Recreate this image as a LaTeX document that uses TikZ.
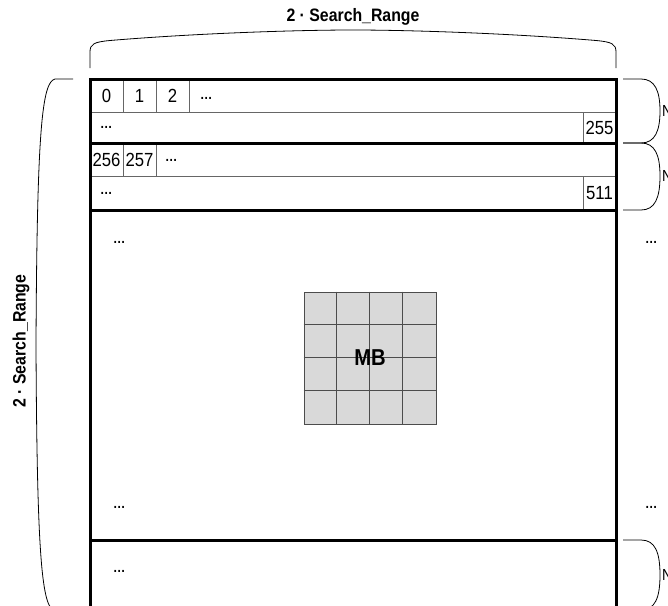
\documentclass[tikz,border=0pt]{standalone}
\usepackage{fontspec}
\setmainfont{Liberation Sans}[FakeStretch=0.88]
\usetikzlibrary{positioning,calc}

\begin{document}
\begin{tikzpicture}[
  x=1pt, y=-1pt,
  font=\fontsize{19}{19}\selectfont,
  cell/.style={draw=black!60, line width=0.7pt, minimum width=33pt, minimum height=33pt, inner sep=0pt, outer sep=0pt},
  rowline/.style={draw=black!60, line width=0.7pt},
  bandline/.style={line width=3pt},
  brace/.style={line width=0.8pt},
  dots/.style={anchor=base west, inner sep=0pt, font=\fontsize{14}{14}\selectfont\bfseries},
  mb/.style={fill=gray!30, draw=black!70, line width=0.7pt, minimum size=132pt, inner sep=0pt},
  lbl/.style={font=\fontsize{18}{18}\selectfont\bfseries},
  node distance=0pt]
  \useasboundingbox (0,0) rectangle (668,605);

  % braces
  \node[lbl] (top) at (353,17) {2 · Search\_Range};
  \draw[brace] (90,68) -- (90,52) .. controls (90,44) and (94,42) .. (110,40.5)
    .. controls (200,33) and (300,30) .. (353,30)
    .. controls (406,30) and (506,33) .. (596,40.5)
    .. controls (612,42) and (616,44) .. (616,52) -- (616,68);
  \node[lbl, rotate=90] (side) at (21,341) {2 · Search\_Range};
  \draw[brace] (73,79) -- (55,79) .. controls (42,82) and (37,130) .. (36,345)
    .. controls (37,560) and (42,608) .. (55,611) -- (73,611);
  \foreach \t/\m/\b [count=\i] in {79/111/143, 143/176/210, 540/575/610}{
    \draw[brace] (623,\t) -- (641,\t) .. controls (655,\t) and (660,\t+12) .. (660,\m)
      .. controls (660,\b-12) and (655,\b) .. (641,\b) -- (623,\b);
    \node[anchor=west, inner sep=0pt, font=\fontsize{16}{16}\selectfont] (n\i) at (662,\m) {N};
  }

  % first band: 0 ... 255
  \node[cell, anchor=north west] (c0) at (90,79) {0};
  \node[cell, right=of c0] (c1) {1};
  \node[cell, right=of c1] (c2) {2};
  \node[dots] (d1) at (200,99.5) {…};
  \node[cell, anchor=south east, minimum height=31pt] (c255) at (616,143) {255};
  \node[dots] (d2) at (100,128.5) {…};
  \draw[rowline] (c0.south west) -- (c255.north east);

  % second band: 256 ... 511
  \node[cell, anchor=north west] (c256) at (90,143) {256};
  \node[cell, right=of c256] (c257) {257};
  \node[dots] (d3) at (165,161.5) {…};
  \node[cell, anchor=south east, minimum height=34pt] (c511) at (616,210) {511};
  \node[dots] (d4) at (100,194) {…};
  \draw[rowline] (c256.south west) -- (c511.north east);

  % search area with the macroblock
  \node[dots] (d5) at (113,243) {…};
  \node[dots] (d6) at (113,508) {…};
  \node[dots] (d7) at (113,572) {…};
  \node[dots] (d8) at (645,243) {…};
  \node[dots] (d9) at (645,508) {…};
  \node[mb] (mb) at (370,358) {};
  \foreach \k in {1,2,3}{
    \draw[draw=black!70, line width=0.7pt] ($(mb.north west)+(33*\k,0)$) -- ($(mb.south west)+(33*\k,0)$);
    \draw[draw=black!70, line width=0.7pt] ($(mb.north west)+(0,33*\k)$) -- ($(mb.north east)+(0,33*\k)$);
  }
  \node[font=\fontsize{23}{23}\selectfont\bfseries] (mbtext) at (mb) {MB};

  \draw[bandline] (90,615) -- (90,79) -- (616,79) -- (616,615);
  \foreach \y in {143,210,540}
    \draw[bandline] (90,\y) -- (616,\y);
\end{tikzpicture}
\end{document}
